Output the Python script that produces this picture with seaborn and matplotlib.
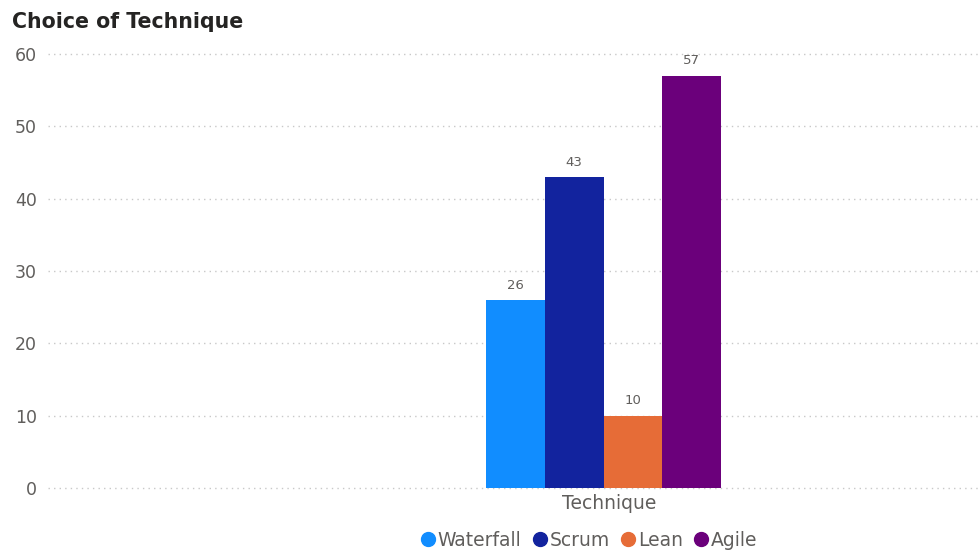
import matplotlib
matplotlib.use("Agg")
import matplotlib.pyplot as plt
import matplotlib.transforms as mtransforms
from matplotlib.lines import Line2D
import seaborn as sns
import pandas as pd

# Survey counts per technique
categories = ["Technique"]
techniques = ["Waterfall", "Scrum", "Lean", "Agile"]
counts = [26, 43, 10, 57]
colors = ["#118DFF", "#12239E", "#E66C37", "#6B007B"]
y_ticks = [0, 10, 20, 30, 40, 50, 60]

df = pd.DataFrame({
    "group": categories * len(techniques),
    "technique": techniques,
    "count": counts,
})

sns.set_theme(style="white")
plt.rcParams["font.family"] = ["DejaVu Sans"]

fig = plt.figure(figsize=(9.79, 5.52), dpi=100)
ax = fig.add_axes([48 / 979, 1 - 488 / 552, 1 - 48 / 979, (488 - 54) / 552])

sns.barplot(data=df, x="group", y="count", hue="technique",
            hue_order=techniques, palette=colors, width=0.8,
            saturation=1, ax=ax, legend=False, edgecolor="none")

ax.set_ylim(0, 60)
ax.set_xlim(-1.891, 1.278)
ax.set_yticks(y_ticks)
ax.set_xlabel("")
ax.set_ylabel("")
for s in ax.spines.values():
    s.set_visible(False)

ax.yaxis.grid(True, linestyle=(0, (1, 3)), color="#C8C8C8", linewidth=1)
ax.set_axisbelow(True)
ax.tick_params(axis="y", length=0, pad=8, labelsize=12.5, labelcolor="#605E5C")
ax.tick_params(axis="x", length=0, pad=4, labelsize=13.5, labelcolor="#605E5C")
for gl in ax.get_ygridlines():
    gl.set_clip_on(False)
shift = mtransforms.ScaledTranslation(6 / 100, 0, fig.dpi_scale_trans)
for lbl in ax.get_xticklabels():
    lbl.set_transform(lbl.get_transform() + shift)

for cont in ax.containers:
    ax.bar_label(cont, fmt="%d", padding=6, fontsize=9.5, color="#605E5C")

fig.text(12 / 979, 1 - 22 / 552, "Choice of Technique", fontsize=14.8,
         fontweight="bold", color="#252423", va="center", ha="left")

handles = [Line2D([0], [0], marker="o", linestyle="none", markersize=10,
                  markerfacecolor=c, markeredgecolor=c) for c in colors]
fig.legend(handles, techniques, loc="center", bbox_to_anchor=(588 / 979, 1 - 540 / 552),
           ncol=4, frameon=False, fontsize=13.5, labelcolor="#605E5C",
           handletextpad=0.0, columnspacing=0.5, handlelength=1.0)

fig.savefig("out.png", dpi=100)
